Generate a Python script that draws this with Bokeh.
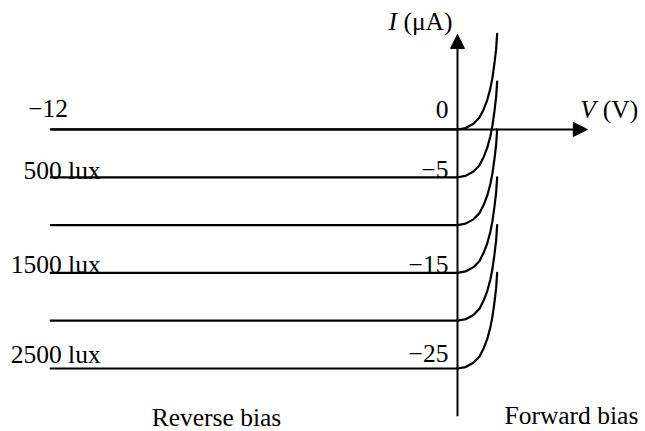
from bokeh.plotting import figure
from bokeh.models import Range1d, Arrow, NormalHead, Label, ColumnDataSource
from bokeh.embed import file_html
from bokeh.resources import INLINE

# Photodiode I-V characteristics under different illumination levels
levels = [0, -5, -10, -15, -20, -25]          # reverse (photo) current, µA
v_start = -12                                  # reverse-bias end of each curve, V

# Forward-bias knee shape, offsets from each curve's reverse-current level
knee_dv = [0, 0.24, 0.47, 0.65, 0.77, 0.88, 0.97, 1.03, 1.09, 1.14, 1.17]
knee_di = [0, 0.15, 0.6, 1.25, 2.1, 3.1, 4.3, 5.4, 6.9, 8.4, 10.0]

tick_values = [0, -5, -15, -25]
tick_labels = ["0", "\u22125", "\u221215", "\u221225"]

lux_levels = [-5, -15, -25]
lux_labels = ["500 lux", "1500 lux", "2500 lux"]

v_axis_end = 3.83
i_axis_top = 9.94
i_axis_bottom = -30

FONT = "Liberation Serif"
FS = "25.5px"
LIFT = 9.5   # raise text so its baseline sits where intended

p = figure(width=645, height=431, output_backend="svg", toolbar_location=None,
           x_range=Range1d(-13.48, 5.546), y_range=Range1d(-31.59, 13.49),
           x_axis_location=None, y_axis_location=None, min_border=0,
           background_fill_color="white", border_fill_color="white")
p.outline_line_color = None
p.xgrid.visible = False
p.ygrid.visible = False

# curves: flat reverse-bias segment, then the forward-bias rise
for lv in levels:
    xs = [v_start] + knee_dv
    ys = [lv] + [lv + d for d in knee_di]
    p.line(xs, ys, line_color="black", line_width=2.2, line_join="round", line_cap="round")

# axes with arrow heads
p.add_layout(Arrow(x_start=v_start, y_start=0, x_end=v_axis_end, y_end=0,
                   line_color="black", line_width=2,
                   end=NormalHead(size=14, fill_color="black", line_color="black")))
p.add_layout(Arrow(x_start=0, y_start=i_axis_bottom, x_end=0, y_end=i_axis_top,
                   line_color="black", line_width=2,
                   end=NormalHead(size=14, fill_color="black", line_color="black")))

# current tick labels beside the vertical axis
tsrc = ColumnDataSource(dict(x=[0] * len(tick_values), y=tick_values, t=tick_labels,
                             yo=[o - LIFT for o in [-10, 2, 1, -5]]))
p.text(x="x", y="y", text="t", source=tsrc, x_offset=-9, y_offset="yo",
       text_align="right", text_baseline="alphabetic",
       text_font={"value": FONT}, text_font_size={"value": FS}, text_color="black")

# illumination labels at the left ends of the curves
lsrc = ColumnDataSource(dict(x=[v_start] * len(lux_levels), y=lux_levels, t=lux_labels,
                             yo=[o - LIFT for o in [3, 1, -4]]))
p.text(x="x", y="y", text="t", source=lsrc, x_offset=50, y_offset="yo",
       text_align="right", text_baseline="alphabetic",
       text_font={"value": FONT}, text_font_size={"value": FS}, text_color="black")

def lab(text, x, y, align="left", xo=0, yo=0, style="normal"):
    p.add_layout(Label(x=x, y=y, text=text, x_offset=xo, y_offset=yo + LIFT,
                       text_align=align, text_baseline="alphabetic",
                       text_font=FONT, text_font_size=FS, text_font_style=style,
                       text_color="black"))

lab("\u221212", v_start, 0, align="center", xo=-2.5, yo=11)

# axis titles
lab("I", 0, i_axis_top, align="left", xo=-69, yo=3, style="italic")
lab("(\u03bcA)", 0, i_axis_top, align="right", xo=-5, yo=3)
lab("V", v_axis_end, 0, align="left", xo=-7, yo=10, style="italic")
lab("(V)", v_axis_end, 0, align="left", xo=15.5, yo=10)

# bias region captions
lab("Reverse bias", -7.11, -31.07, align="center")
lab("Forward bias", 3.36, -30.96, align="center")

open("out.html", "w").write(file_html(p, INLINE))
